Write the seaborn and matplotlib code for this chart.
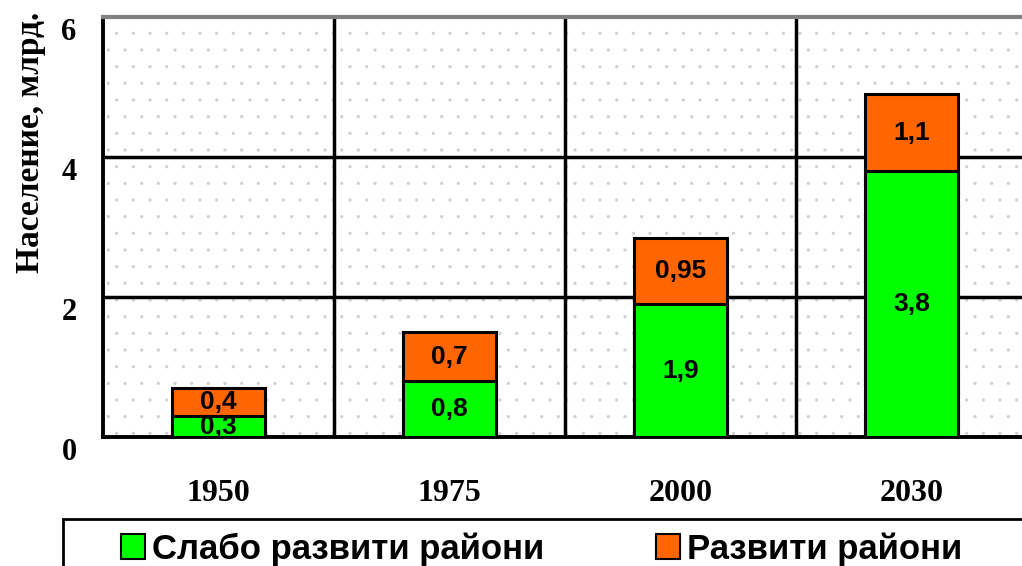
import matplotlib
matplotlib.use("Agg")
import matplotlib.pyplot as plt
from matplotlib.patches import Patch, Rectangle
from matplotlib.transforms import ScaledTranslation
import pandas as pd
import seaborn as sns

years = ["1950", "1975", "2000", "2030"]
less_developed = [0.3, 0.8, 1.9, 3.8]
developed = [0.4, 0.7, 0.95, 1.1]
less_labels = ["0,3", "0,8", "1,9", "3,8"]
dev_labels = ["0,4", "0,7", "0,95", "1,1"]
y_ticks = [0, 2, 4, 6]

GREEN = "#00FF00"
ORANGE = "#FF6600"

df = pd.DataFrame({
    "year": years,
    "less": less_developed,
    "dev": developed,
})
df["total"] = df["less"] + df["dev"]

sns.set_style("white")
plt.rcParams["text.color"] = "black"
plt.rcParams["xtick.color"] = "black"
plt.rcParams["ytick.color"] = "black"
plt.rcParams["axes.labelcolor"] = "black"
plt.rcParams["hatch.linewidth"] = 0.0
plt.rcParams["hatch.color"] = "#d2d2d2"

fig = plt.figure(figsize=(10.22, 5.66), dpi=100)
ax = fig.add_axes([103 / 1022, 129 / 566, 924 / 1022, 420 / 566])

# dotted background
ax.add_patch(Rectangle((0, 0), 1, 1, transform=ax.transAxes, facecolor="white",
                       edgecolor="#d2d2d2", hatch=".", linewidth=0, zorder=0))

sns.barplot(data=df, x="year", y="total", color=ORANGE, width=0.4,
            edgecolor="black", linewidth=2.2, saturation=1, ax=ax, zorder=3)
sns.barplot(data=df, x="year", y="less", color=GREEN, width=0.4,
            edgecolor="black", linewidth=2.2, saturation=1, ax=ax, zorder=4)

label_font = dict(family="Liberation Sans", weight="bold", fontsize=19, color="black")
for i, row in df.iterrows():
    ax.text(i, row["less"] / 2, less_labels[i], ha="center", va="center", zorder=5, **label_font)
    ax.text(i, row["less"] + row["dev"] / 2, dev_labels[i], ha="center", va="center", zorder=5, **label_font)

ax.set_xlim(-0.5, 3.5)
ax.set_ylim(0, 6)
ax.set_yticks(y_ticks)
ax.set_yticklabels([str(t) for t in y_ticks], family="Liberation Serif", weight="bold", fontsize=22)
ax.set_xticks(range(len(years)))
ax.set_xticklabels(years, family="Liberation Serif", weight="bold", fontsize=23)
ax.set_xticks([-0.5, 0.5, 1.5, 2.5], minor=True)
ax.tick_params(axis="x", which="major", length=0, pad=30)
ax.tick_params(axis="x", which="minor", length=10, width=2.5, direction="out", color="black")
ax.tick_params(axis="y", length=8, width=2.5, direction="out", color="black", pad=11)

# tick labels on the y axis sit a little below their ticks
offset = ScaledTranslation(0, -0.12, fig.dpi_scale_trans)
for lbl in ax.get_yticklabels():
    lbl.set_transform(lbl.get_transform() + offset)

ax.grid(False)
for y in [2, 4]:
    ax.axhline(y, color="black", linewidth=2.5, zorder=1)
for x in [0.5, 1.5, 2.5]:
    ax.axvline(x, color="black", linewidth=2.5, zorder=1)

ax.spines["left"].set_linewidth(2.8)
ax.spines["bottom"].set_linewidth(2.8)
ax.spines["top"].set_color("#808080")
ax.spines["top"].set_linewidth(3)
ax.spines["right"].set_visible(False)
for s in ["left", "bottom"]:
    ax.spines[s].set_color("black")

ax.set_xlabel("")
ax.set_ylabel("Население, млрд.", family="Liberation Serif", weight="bold", fontsize=24)
ax.yaxis.set_label_coords(-0.062, 0.702)

# legend box runs past the right and bottom edges
fig.add_artist(Rectangle((63 / 1022, -0.2), 1.0, 0.2 + 1 - 519 / 566, transform=fig.transFigure,
                         fill=False, edgecolor="black", linewidth=2))
handles = [
    Patch(facecolor=GREEN, edgecolor="black", linewidth=1.5, label="Слабо развити райони"),
    Patch(facecolor=ORANGE, edgecolor="black", linewidth=1.5, label="Развити райони"),
]
fig.legend(handles=handles, loc="center left", ncol=2,
           bbox_to_anchor=(121 / 1022, 1 - 549 / 566),
           prop=dict(family="Liberation Sans", weight="bold", size=25),
           frameon=False, handlelength=0.7, handleheight=0.7,
           handletextpad=0.2, borderpad=0, borderaxespad=0, columnspacing=3.2)

fig.savefig("out.png", dpi=100)
